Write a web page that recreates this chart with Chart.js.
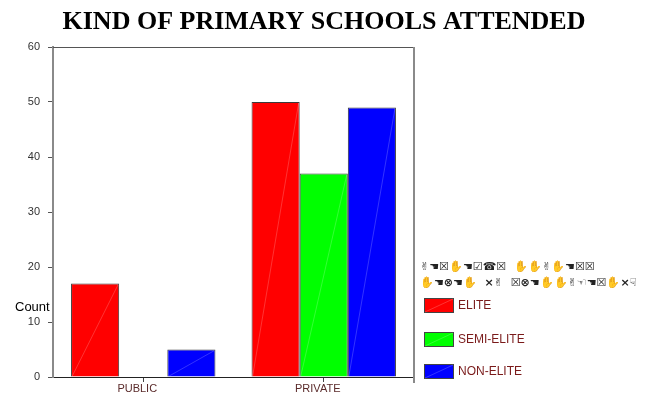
<!DOCTYPE html>
<html>
<head>
<meta charset="utf-8">
<script src="https://cdn.jsdelivr.net/npm/chart.js@4"></script>
<style>
  html, body { margin: 0; padding: 0; background: #fff; }
  #wrap { width: 647px; height: 394px; position: relative; }
</style>
</head>
<body>
<div id="wrap"><canvas id="c" width="647" height="394"></canvas></div>
<script>
// School kind categories and counts per group
const categories = ['PUBLIC', 'PRIVATE'];
const seriesNames = ['ELITE', 'SEMI-ELITE', 'NON-ELITE'];
const eliteCounts = [17, 50];
const semiEliteCounts = [0, 37];
const nonEliteCounts = [5, 49];
const yTicks = [0, 10, 20, 30, 40, 50, 60];
const titleText = 'KIND OF PRIMARY SCHOOLS ATTENDED';
const yLabel = 'Count';
const legendTitleLines = ['✌☚☒✋☚☑☎☒  ✋✋✌✋☚☒☒', '✋☚⊗☚✋  ×✌  ☒⊗☚✋✋✌☜☚☒✋×☟'];

const colors = ['#ff0000', '#00ff00', '#0000ff'];
const values = [eliteCounts, semiEliteCounts, nonEliteCounts];

// Frame, title, axis label, bar diagonals and legend
const decor = {
  id: 'decor',
  afterDatasetsDraw(chart) {
    const ctx = chart.ctx;
    const a = chart.chartArea;
    ctx.save();
    // faint diagonal inside each bar
    chart.data.datasets.forEach((ds, i) => {
      chart.getDatasetMeta(i).data.forEach(bar => {
        const p = bar.getProps(['x', 'y', 'base', 'width'], true);
        if (Math.abs(p.base - p.y) < 1) return;
        ctx.strokeStyle = 'rgba(255,255,255,0.2)';
        ctx.lineWidth = 1;
        ctx.beginPath();
        ctx.moveTo(p.x - p.width / 2 + 1, p.base);
        ctx.lineTo(p.x + p.width / 2 - 1, p.y + 1);
        ctx.stroke();
      });
    });
    // top and right frame
    ctx.strokeStyle = '#555';
    ctx.lineWidth = 1;
    ctx.beginPath();
    ctx.moveTo(a.left, a.top + 0.5);
    ctx.lineTo(a.right, a.top + 0.5);
    ctx.stroke();
    ctx.strokeStyle = '#8a8a8a';
    ctx.lineWidth = 2;
    ctx.beginPath();
    ctx.moveTo(a.right, a.top);
    ctx.lineTo(a.right, a.bottom + 6);
    ctx.stroke();
    ctx.restore();
  },
  afterDraw(chart) {
    const ctx = chart.ctx;
    ctx.save();
    // title
    ctx.fillStyle = '#000';
    ctx.font = 'bold 26px "Liberation Serif", "Times New Roman", serif';
    ctx.textAlign = 'center';
    ctx.textBaseline = 'middle';
    ctx.fillText(titleText, 324, 22);
    // y axis label
    ctx.font = '13px "Liberation Sans", Arial, sans-serif';
    ctx.textAlign = 'left';
    ctx.fillText(yLabel, 15, 307);
    // legend
    ctx.font = 'bold 11px "DejaVu Sans", sans-serif';
    ctx.fillStyle = '#222';
    ctx.fillText(legendTitleLines[0], 420, 267);
    ctx.fillText(legendTitleLines[1], 420, 283);
    const rowY = [305, 339, 371];
    chart.data.datasets.forEach((ds, i) => {
      const y = rowY[i];
      ctx.fillStyle = ds.backgroundColor;
      ctx.fillRect(424, y - 7, 30, 15);
      ctx.strokeStyle = '#444';
      ctx.lineWidth = 1;
      ctx.strokeRect(424.5, y - 6.5, 29, 14);
      ctx.strokeStyle = 'rgba(255,255,255,0.2)';
      ctx.beginPath();
      ctx.moveTo(425, y + 7);
      ctx.lineTo(453, y - 6);
      ctx.stroke();
      ctx.fillStyle = '#7a1a1a';
      ctx.font = '12px "Liberation Sans", Arial, sans-serif';
      ctx.fillText(ds.label, 458, y + 1);
    });
    ctx.restore();
  }
};

new Chart(document.getElementById('c'), {
  type: 'bar',
  data: {
    labels: categories,
    datasets: seriesNames.map((name, i) => ({
      label: name,
      data: values[i],
      backgroundColor: colors[i],
      borderColor: '#3a3a3a',
      borderWidth: 1,
      borderSkipped: 'bottom'
    }))
  },
  options: {
    responsive: false,
    animation: false,
    devicePixelRatio: 1,
    layout: { padding: { top: 47, right: 233, left: 0, bottom: 0 } },
    plugins: {
      legend: { display: false },
      title: { display: false },
      tooltip: { enabled: false }
    },
    datasets: { bar: { categoryPercentage: 0.8, barPercentage: 1.0 } },
    scales: {
      x: {
        offset: true,
        grid: { display: true, drawOnChartArea: false, offset: false, tickLength: 5, color: '#444' },
        border: { display: true, color: '#222', width: 1 },
        ticks: { color: '#5a2a2a', font: { family: '"Liberation Sans", Arial, sans-serif', size: 11 }, padding: 0, labelOffset: -6 },
        afterFit: s => { s.height = 17; }
      },
      y: {
        min: 0,
        max: 60,
        afterBuildTicks: s => { s.ticks = yTicks.map(v => ({ value: v })); },
        grid: { display: true, drawOnChartArea: false, tickLength: 5, color: '#555' },
        border: { display: true, color: '#8a8a8a', width: 2 },
        ticks: { color: '#333', font: { family: '"Liberation Sans", Arial, sans-serif', size: 11 }, padding: 8 },
        afterFit: s => { s.width = 53; }
      }
    }
  },
  plugins: [decor]
});
</script>
</body>
</html>
